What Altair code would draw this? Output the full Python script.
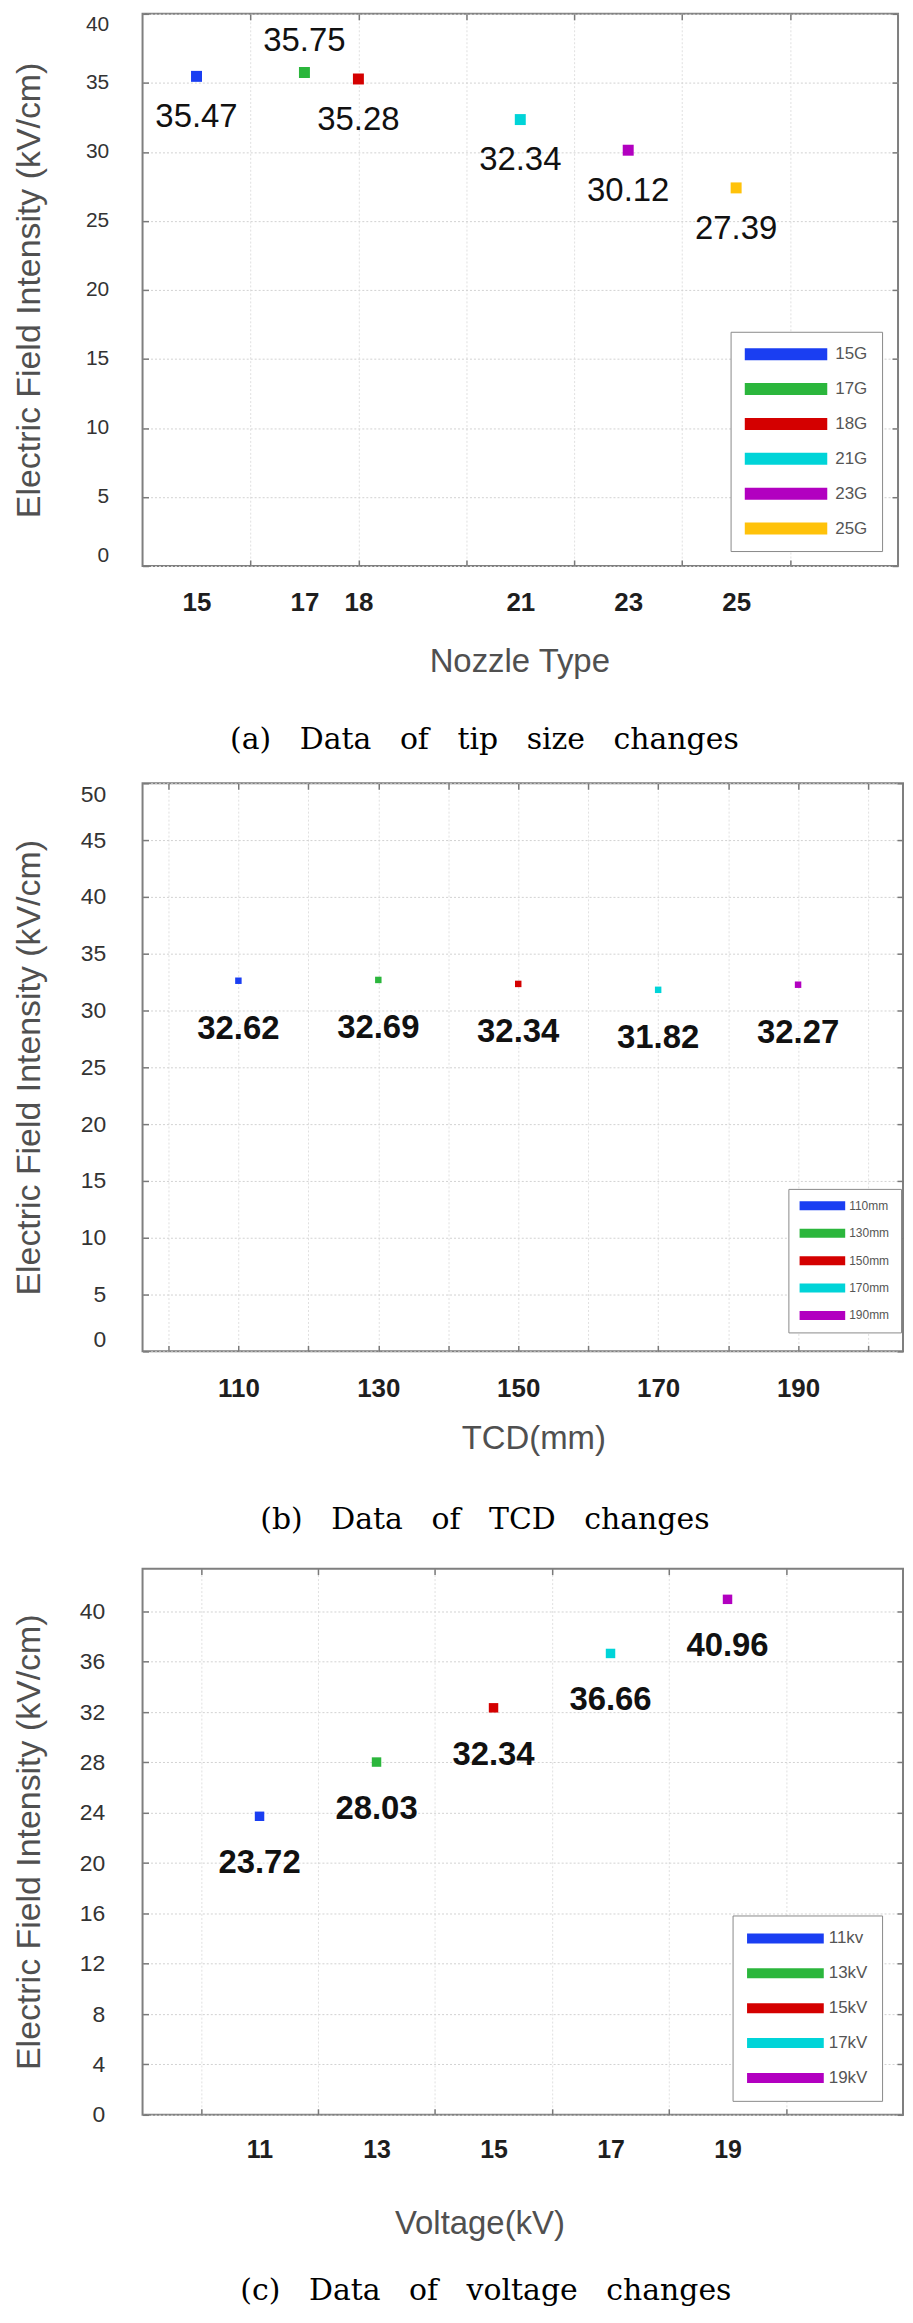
import altair as alt
import pandas as pd

# ---------------- data ----------------
# (a) tip size changes
nozzle_gauge = [15, 17, 18, 21, 23, 25]
nozzle_names = ["15G", "17G", "18G", "21G", "23G", "25G"]
nozzle_field = [35.47, 35.75, 35.28, 32.34, 30.12, 27.39]
nozzle_label_side = ["below", "above", "below", "below", "below", "below"]
nozzle_grid = [16, 18, 20, 22, 24, 26]
nozzle_yticks = [0, 5, 10, 15, 20, 25, 30, 35, 40]

# (b) TCD changes
tcd_mm = [110, 130, 150, 170, 190]
tcd_names = ["110mm", "130mm", "150mm", "170mm", "190mm"]
tcd_field = [32.62, 32.69, 32.34, 31.82, 32.27]
tcd_label_side = ["below", "below", "below", "below", "below"]
tcd_grid = [100, 110, 120, 130, 140, 150, 160, 170, 180, 190, 200]
tcd_yticks = [0, 5, 10, 15, 20, 25, 30, 35, 40, 45, 50]

# (c) voltage changes
volt_kv = [11, 13, 15, 17, 19]
volt_names = ["11kv", "13kV", "15kV", "17kV", "19kV"]
volt_field = [23.72, 28.03, 32.34, 36.66, 40.96]
volt_label_side = ["below", "below", "below", "below", "below"]
volt_grid = [10, 12, 14, 16, 18, 20]
volt_yticks = [0, 4, 8, 12, 16, 20, 24, 28, 32, 36, 40]

series_colors = ["#1a3ef2", "#2bb63c", "#d40000", "#00d4d8", "#b200c0", "#ffc20a"]

Y_TITLE = "Electric Field Intensity (kV/cm)"
SANS = "Liberation Sans"
SERIF = "DejaVu Serif"
NB = "\u00a0\u00a0 "


def panel(x, y, names, side, xlim, ylim, xlab, xgrid, yvals, xtitle, caption, p):
    df = pd.DataFrame({"x": x, "y": y, "name": names, "side": side})
    xs = alt.Scale(domain=xlim, nice=False, zero=False)
    ys = alt.Scale(domain=ylim, nice=False, zero=False)
    base = alt.Chart(df)

    legend = alt.Legend(
        title=None, orient="none", legendX=p["lx"], legendY=p["ly"], direction="vertical",
        symbolType=p["lpath"], symbolSize=p["lsize"], symbolStrokeWidth=0, symbolOpacity=1,
        clipHeight=p["lclip"],
        labelFont=SANS, labelFontSize=p["lfs"], labelColor="#555555", labelOffset=p["loff"],
        padding=p["lpad"], rowPadding=p["lrow"], strokeColor="#8a8a8a", fillColor="white",
    )

    pts = base.mark_square(size=p["msize"], opacity=1).encode(
        x=alt.X("x:Q", scale=xs, axis=alt.Axis(
            orient="bottom", values=xlab, format="d", title=xtitle,
            ticks=False, tickSize=0, domain=False, grid=False, labelFlush=False,
            labelFont=SANS, labelFontSize=p["xlfs"], labelFontWeight="bold",
            labelColor="#1e1e1e", labelPadding=p["xlpad"],
            titleFont=SANS, titleFontSize=33, titleFontWeight="normal",
            titleColor="#505050", titlePadding=p["xtpad"], titleX=p["xtx"],
            titleAlign="center")),
        y=alt.Y("y:Q", scale=ys, axis=alt.Axis(
            orient="left", values=yvals, title=Y_TITLE, ticks=False, tickSize=0,
            domain=False, grid=True, gridColor="#d2d2d2", gridDash=[2, 2], gridWidth=1,
            labelFlush=p["flush"], labelFont=SANS, labelFontSize=p["ylfs"],
            labelColor="#333333", labelPadding=p["ylpad"],
            titleFont=SANS, titleFontSize=34, titleFontWeight="normal",
            titleColor="#505050", titlePadding=p["ytpad"])),
        color=alt.Color("name:N", scale=alt.Scale(domain=names, range=series_colors[:len(names)]),
                        legend=legend),
    )

    tk = dict(labels=False, domain=False, ticks=True, tickSize=6, tickColor="#7a7a7a",
              tickWidth=1.5, title=None, offset=-6)
    tick_tr = base.mark_point(opacity=0, size=1).encode(
        x=alt.X("x:Q", scale=xs, axis=alt.Axis(orient="top", values=xgrid, grid=True,
                                               gridColor="#e0e0e0", gridDash=[2, 2], **tk)),
        y=alt.Y("y:Q", scale=ys, axis=alt.Axis(orient="right", values=yvals, grid=False, **tk)),
    )
    tick_bl = base.mark_point(opacity=0, size=1).encode(
        x=alt.X("x:Q", scale=xs, axis=alt.Axis(orient="bottom", values=xgrid, grid=False, **tk)),
        y=alt.Y("y:Q", scale=ys, axis=alt.Axis(orient="left", values=yvals, grid=False, **tk)),
    )

    layers = [tick_tr, tick_bl, pts]
    for s, dy in (("below", p["dy_below"]), ("above", p["dy_above"])):
        if s in side:
            layers.append(
                base.transform_filter(alt.datum.side == s).mark_text(
                    dy=dy, font=SANS, fontSize=p["tfs"], fontWeight=p["tfw"], color="#111111"
                ).encode(
                    x=alt.X("x:Q", scale=xs, axis=None),
                    y=alt.Y("y:Q", scale=ys, axis=None),
                    text=alt.Text("y:Q", format=".2f"),
                )
            )

    return alt.layer(*layers).resolve_axis(x="independent", y="independent").properties(
        width=p["w"], height=p["h"],
        title=alt.TitleParams(caption, orient="bottom", anchor="middle", frame="group",
                              dx=p["capdx"], offset=p["capoff"], font=SERIF, fontSize=30,
                              fontWeight="normal", color="#000000"),
    )


pa = panel(
    nozzle_gauge, nozzle_field, nozzle_names, nozzle_label_side, [14, 28], [0, 40],
    nozzle_gauge, nozzle_grid, nozzle_yticks, "Nozzle Type",
    "(a)" + NB + "Data" + NB + "of" + NB + "tip" + NB + "size" + NB + "changes",
    dict(w=758, h=554, msize=121, xlfs=26, xlpad=24, xtpad=30, xtx=378, flush=True,
         ylfs=21, ylpad=34, ytpad=39, lx=590, ly=319, lpath="M-1,-0.145H1V0.145H-1Z",
         lsize=6889, lclip=17, lfs=17, loff=8, lpad=14, lrow=17, tfs=33, tfw="normal",
         dy_below=41, dy_above=-32, capdx=-36, capoff=47),
)

pb = panel(
    tcd_mm, tcd_field, tcd_names, tcd_label_side, [96.3, 205], [0, 50],
    tcd_mm, tcd_grid, tcd_yticks, "TCD(mm)",
    "(b)" + NB + "Data" + NB + "of" + NB + "TCD" + NB + "changes",
    dict(w=763, h=570, msize=42, xlfs=26, xlpad=24, xtpad=21, xtx=392, flush=True,
         ylfs=23, ylpad=37, ytpad=34, lx=648, ly=407, lpath="M-1,-0.196H1V0.196H-1Z",
         lsize=2116, lclip=12, lfs=12, loff=4, lpad=11, lrow=15.5, tfs=33, tfw="bold",
         dy_below=48, dy_above=-32, capdx=-38, capoff=50),
)

pc = panel(
    volt_kv, volt_field, volt_names, volt_label_side, [9, 22], [0, 43.4],
    volt_kv, volt_grid, volt_yticks, "Voltage(kV)",
    "(c)" + NB + "Data" + NB + "of" + NB + "voltage" + NB + "changes",
    dict(w=763, h=548, msize=90, xlfs=25, xlpad=23, xtpad=45, xtx=338, flush=False,
         ylfs=23, ylpad=38, ytpad=33, lx=592, ly=348, lpath="M-1,-0.13H1V0.13H-1Z",
         lsize=5929, lclip=17, lfs=17, loff=5, lpad=14.5, lrow=17, tfs=33, tfw="bold",
         dy_below=47, dy_above=-32, capdx=-37, capoff=36),
)

chart = (
    alt.vconcat(pa, pb, pc, spacing=218, bounds="flush")
    .resolve_scale(color="independent")
    .properties(padding={"left": 3, "top": 0, "right": 0, "bottom": 0}, background="white")
    .configure_view(stroke="#7f7f7f", strokeWidth=2)
)

chart.save("out.html", embed_options={"renderer": "svg", "actions": False})
